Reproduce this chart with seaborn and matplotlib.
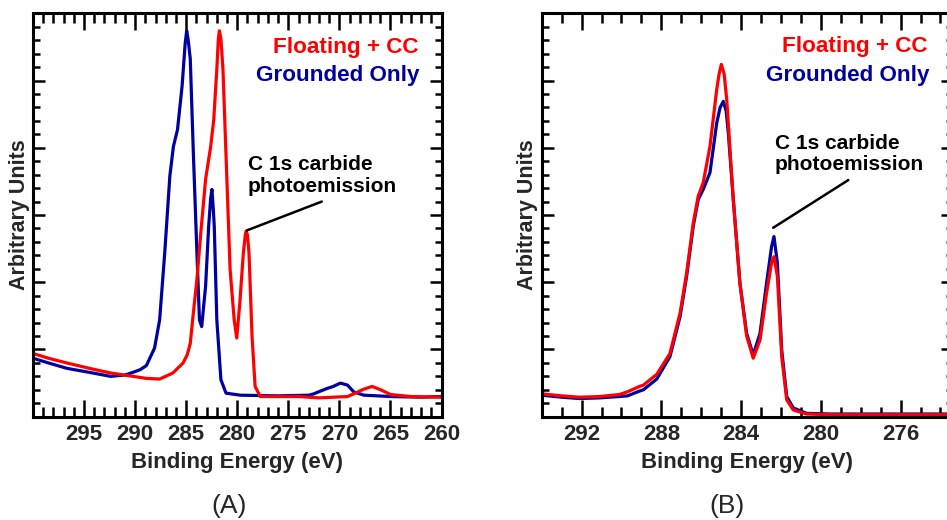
import matplotlib
matplotlib.use("Agg")
import matplotlib.pyplot as plt
from matplotlib.ticker import MultipleLocator, NullFormatter
import seaborn as sns
import pandas as pd

# ---------------- data ----------------
# Panel A: wide scan, 300 -> 260 eV
a_grounded_energy = [300.0, 298.5, 296.7, 294.5, 292.4, 291.0, 290.2, 289.5, 288.9, 288.1,
                     287.6, 287.1, 286.6, 286.25, 285.85, 285.4, 285.1, 284.95, 284.8, 284.6,
                     284.3, 283.95, 283.7, 283.48, 283.1, 282.8, 282.6, 282.48, 282.35, 282.25,
                     282.0, 281.6, 281.1, 279.7, 276.0, 273.0, 272.5, 272.2, 271.2, 270.6,
                     269.9, 269.2, 268.6, 267.6, 265.0, 262.0, 260.0]
a_grounded_signal = [0.87, 0.80, 0.72, 0.66, 0.60, 0.62, 0.66, 0.70, 0.76, 1.02,
                     1.44, 2.44, 3.58, 4.02, 4.27, 4.92, 5.55, 5.74, 5.60, 5.32,
                     3.93, 2.44, 1.44, 1.34, 1.94, 2.83, 3.25, 3.38, 3.10, 2.83,
                     1.44, 0.55, 0.35, 0.32, 0.31, 0.32, 0.34, 0.36, 0.42, 0.45,
                     0.50, 0.47, 0.37, 0.32, 0.30, 0.29, 0.30]

a_floating_energy = [300.0, 298.5, 296.7, 294.5, 292.4, 290.2, 288.9, 287.6, 286.3, 285.3,
                     284.9, 284.6, 284.3, 283.95, 283.6, 283.1, 282.6, 282.3, 282.0, 281.85,
                     281.75, 281.6, 281.4, 281.05, 280.7, 280.3, 280.05, 279.75, 279.4, 279.2,
                     279.12, 279.0, 278.85, 278.55, 278.25, 277.75, 274.0, 272.0, 269.2, 268.6,
                     267.6, 266.8, 265.95, 265.0, 263.0, 260.0]
a_floating_signal = [0.94, 0.87, 0.80, 0.72, 0.65, 0.60, 0.57, 0.56, 0.65, 0.80,
                     0.92, 1.09, 1.54, 2.04, 2.68, 3.53, 4.02, 4.42, 5.17, 5.62,
                     5.74, 5.62, 5.17, 3.68, 2.19, 1.44, 1.17, 1.69, 2.44, 2.72,
                     2.76, 2.70, 2.44, 1.19, 0.45, 0.30, 0.30, 0.28, 0.30, 0.34,
                     0.41, 0.45, 0.40, 0.33, 0.30, 0.29]

# Panel B: narrow C 1s scan, 294 -> 273.3 eV
b_grounded_energy = [294.0, 293.0, 292.1, 291.1, 290.1, 289.7, 289.1, 288.9, 288.23, 287.57,
                     287.06, 286.73, 286.4, 286.15, 285.9, 285.56, 285.22, 285.05, 284.89, 284.75,
                     284.64, 284.39, 284.06, 283.72, 283.39, 283.05, 282.72, 282.47, 282.35, 282.18,
                     281.96, 281.71, 281.38, 280.71, 279.5, 273.3]
b_grounded_signal = [0.32, 0.29, 0.27, 0.28, 0.30, 0.31, 0.38, 0.40, 0.56, 0.89,
                     1.49, 2.09, 2.83, 3.23, 3.38, 3.63, 4.37, 4.60, 4.69, 4.55,
                     4.22, 3.23, 1.99, 1.24, 0.92, 1.24, 1.99, 2.53, 2.68, 2.29,
                     0.99, 0.30, 0.13, 0.05, 0.04, 0.04]

b_floating_energy = [294.0, 293.0, 292.1, 291.1, 290.1, 289.7, 289.1, 288.9, 288.23, 287.57,
                     287.06, 286.73, 286.4, 286.15, 285.9, 285.56, 285.22, 285.1, 284.99, 284.85,
                     284.72, 284.39, 284.06, 283.72, 283.39, 283.05, 282.72, 282.47, 282.35, 282.18,
                     281.96, 281.71, 281.38, 280.71, 279.5, 273.3]
b_floating_signal = [0.34, 0.31, 0.29, 0.30, 0.33, 0.37, 0.45, 0.47, 0.63, 0.94,
                     1.54, 2.14, 2.88, 3.28, 3.48, 4.02, 4.87, 5.10, 5.24, 5.10,
                     4.72, 3.23, 1.99, 1.20, 0.87, 1.14, 1.84, 2.29, 2.38, 2.09,
                     0.89, 0.25, 0.10, 0.04, 0.03, 0.03]

series_names = ["Floating + CC", "Grounded Only"]
panel_labels = ["(A)", "(B)"]
a_xticks = [295, 290, 285, 280, 275, 270, 265, 260]
b_xticks = [292, 288, 284, 280, 276]
annot_text = "C 1s carbide\nphotoemission"
a_leader = [(279.07, 2.77), (271.72, 3.20)]
b_leader = [(282.39, 2.81), (278.62, 3.52)]

# ---------------- styling ----------------
sns.set_theme(style="white")
plt.rcParams["font.family"] = ["Liberation Sans", "DejaVu Sans"]
RED = "#FF0000"
BLUE = "#0000A0"
palette = {series_names[0]: RED, series_names[1]: BLUE}


def frame(e_float, s_float, e_gr, s_gr):
    return pd.concat([
        pd.DataFrame({"energy": e_float, "signal": s_float, "series": series_names[0]}),
        pd.DataFrame({"energy": e_gr, "signal": s_gr, "series": series_names[1]}),
    ], ignore_index=True)


df_a = frame(a_floating_energy, a_floating_signal, a_grounded_energy, a_grounded_signal)
df_b = frame(b_floating_energy, b_floating_signal, b_grounded_energy, b_grounded_signal)

fig = plt.figure(figsize=(9.47, 5.2), dpi=100)
ax_a = fig.add_axes([33 / 947, 1 - 416.7 / 520, (441.5 - 33) / 947, (416.7 - 13.3) / 520])
ax_b = fig.add_axes([541.7 / 947, 1 - 416.7 / 520, (953 - 541.7) / 947, (416.7 - 13.3) / 520])


def draw(ax, df, xlim, xticks, leader, txt_pos, panel_label, panel_x):
    # Draw grounded first so the red trace sits on top
    for name in [series_names[1], series_names[0]]:
        sub = df[df["series"] == name]
        sns.lineplot(data=sub, x="energy", y="signal", color=palette[name], ax=ax,
                     linewidth=2.3, sort=False, estimator=None, legend=False)
    ax.set_xlim(*xlim)
    ax.set_ylim(0, 6)
    ax.set_xticks(xticks)
    ax.xaxis.set_minor_locator(MultipleLocator(1))
    ax.yaxis.set_major_locator(MultipleLocator(1))
    ax.yaxis.set_minor_locator(MultipleLocator(0.2))
    ax.yaxis.set_major_formatter(NullFormatter())
    ax.tick_params(axis="x", which="major", direction="in", length=12, width=1.8,
                   top=True, bottom=True, labelsize=16, pad=5, color="black")
    ax.tick_params(axis="x", which="minor", direction="in", length=7, width=1.8,
                   top=True, bottom=True, color="black")
    ax.tick_params(axis="y", which="major", direction="in", length=8.5, width=1.8,
                   left=True, right=True, color="black")
    ax.tick_params(axis="y", which="minor", direction="in", length=5.2, width=1.8,
                   left=True, right=True, color="black")
    for lbl in ax.get_xticklabels():
        lbl.set_fontweight("bold")
    for sp in ax.spines.values():
        sp.set_linewidth(2.2)
        sp.set_color("black")
    ax.set_xlabel("Binding Energy (eV)", fontsize=16, fontweight="bold", labelpad=5)
    ax.set_ylabel("Arbitrary Units", fontsize=15.5, fontweight="bold", labelpad=-1)
    (fx, fy), (gx, gy), (cx, cy) = txt_pos
    ax.text(fx, fy, series_names[0], color=RED, fontsize=16.2, fontweight="bold",
            ha="right", va="center", transform=ax.transAxes)
    ax.text(gx, gy, series_names[1], color=BLUE, fontsize=16.2, fontweight="bold",
            ha="right", va="center", transform=ax.transAxes)
    ax.text(cx, cy, annot_text, color="black", fontsize=15, fontweight="bold",
            ha="left", va="center", transform=ax.transAxes, linespacing=1.15)
    ax.annotate("", xy=leader[0], xytext=leader[1],
                arrowprops=dict(arrowstyle="-", color="black", lw=1.8, shrinkA=0, shrinkB=0))
    fig.text(panel_x, 1 - 506 / 520, panel_label, fontsize=19, ha="center", va="center")


draw(ax_a, df_a, (300, 260), a_xticks, a_leader,
     [(0.9425, 0.914), (0.947, 0.845), (0.526, 0.598)], panel_labels[0], 229 / 947)
draw(ax_b, df_b, (294, 273.37), b_xticks, b_leader,
     [(0.9385, 0.917), (0.944, 0.847), (0.567, 0.651)], panel_labels[1], 727 / 947)

fig.savefig("out.png", dpi=100)
